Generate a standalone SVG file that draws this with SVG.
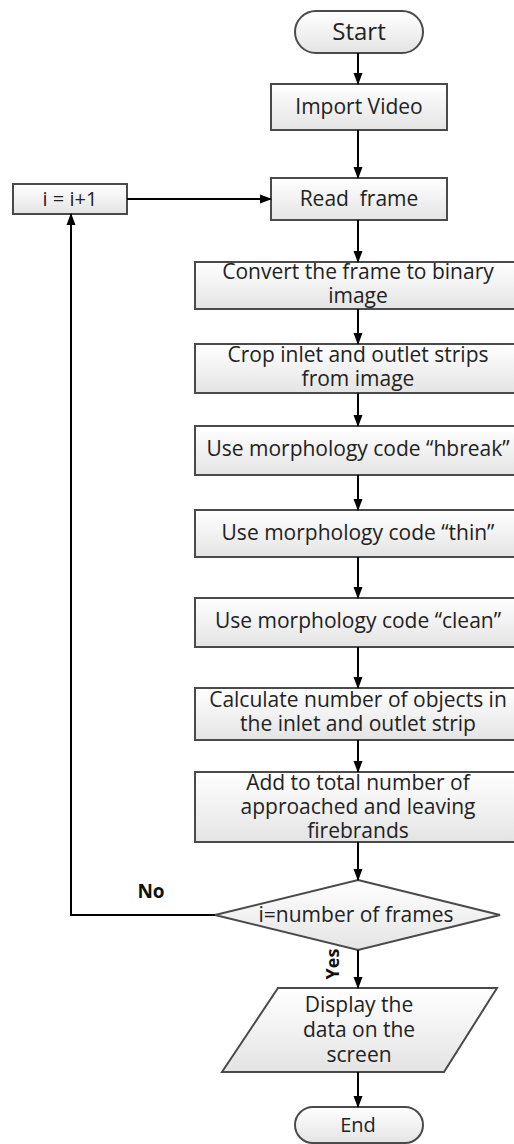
<svg xmlns="http://www.w3.org/2000/svg" width="514" height="1144" viewBox="0 0 514 1144">
  <defs>
    <linearGradient id="fillG" x1="0" y1="0" x2="0" y2="1">
      <stop offset="0" stop-color="#ffffff"/>
      <stop offset="1" stop-color="#e4e4e4"/>
    </linearGradient>
    <marker id="arr" markerUnits="userSpaceOnUse" markerWidth="12" markerHeight="12" viewBox="0 0 12 12" refX="11" refY="6" orient="auto">
      <path d="M0,1.5 L12,6 L0,10.5 Z" fill="#000"/>
    </marker>
  </defs>
  <style>
    .shape { fill: url(#fillG); stroke: #4a4a4a; stroke-width: 2; }
    .t { font-family: "Open Sans", "DejaVu Sans", sans-serif; font-size: 21px; fill: #222; text-anchor: middle; }
    .lbl { font-family: "Open Sans", "DejaVu Sans", sans-serif; font-weight: bold; fill: #111; text-anchor: middle; }
    .c { fill: none; stroke: #000; stroke-width: 2; marker-end: url(#arr); }
  </style>
  <rect width="514" height="1144" fill="#ffffff"/>

  <g id="start">
    <rect class="shape" x="295" y="11" width="128" height="42" rx="21" ry="21"/>
    <text class="t" x="359" y="40" style="font-size:24px">Start</text>
  </g>
  <g id="import">
    <rect class="shape" x="271" y="84" width="176" height="46"/>
    <text class="t" x="359" y="114">Import Video</text>
  </g>
  <g id="read">
    <rect class="shape" x="271" y="178" width="176" height="42"/>
    <text class="t" x="359" y="206" xml:space="preserve">Read  frame</text>
  </g>
  <g id="incr">
    <rect class="shape" x="13" y="184" width="114" height="30"/>
    <text class="t" x="70" y="206" style="font-size:20px">i = i+1</text>
  </g>
  <g id="convert">
    <rect class="shape" x="195" y="262" width="327" height="47"/>
    <text class="t" x="358" y="279">Convert the frame to binary<tspan x="358" dy="24">image</tspan></text>
  </g>
  <g id="crop">
    <rect class="shape" x="195" y="344" width="327" height="49"/>
    <text class="t" x="358" y="362">Crop inlet and outlet strips<tspan x="358" dy="24">from image</tspan></text>
  </g>
  <g id="hbreak">
    <rect class="shape" x="195" y="426" width="327" height="49"/>
    <text class="t" x="358" y="456">Use morphology code “hbreak”</text>
  </g>
  <g id="thin">
    <rect class="shape" x="195" y="510" width="327" height="47"/>
    <text class="t" x="358" y="540">Use morphology code “thin”</text>
  </g>
  <g id="clean">
    <rect class="shape" x="195" y="598" width="327" height="49"/>
    <text class="t" x="358" y="628">Use morphology code “clean”</text>
  </g>
  <g id="calc">
    <rect class="shape" x="195" y="688" width="327" height="52"/>
    <text class="t" x="358" y="707">Calculate number of objects in<tspan x="358" dy="24">the inlet and outlet strip</tspan></text>
  </g>
  <g id="add">
    <rect class="shape" x="195" y="772" width="327" height="70"/>
    <text class="t" x="358" y="790">Add to total number of<tspan x="358" dy="24">approached and leaving</tspan><tspan x="358" dy="24">firebrands</tspan></text>
  </g>
  <g id="decision">
    <polygon class="shape" points="358,880 500,915 358,950 215,915"/>
    <text class="t" x="356" y="922">i=number of frames</text>
  </g>
  <g id="display">
    <polygon class="shape" points="278,988 497,988 444,1072 222,1072"/>
    <text class="t" x="359" y="1012">Display the<tspan x="359" dy="25">data on the</tspan><tspan x="359" dy="25">screen</tspan></text>
  </g>
  <g id="end">
    <rect class="shape" x="295" y="1107" width="128" height="36" rx="18" ry="18"/>
    <text class="t" x="358" y="1132" style="font-size:20px">End</text>
  </g>

  <g id="connectors">
    <line class="c" x1="358" y1="53" x2="358" y2="84"/>
    <line class="c" x1="358" y1="130" x2="358" y2="178"/>
    <line class="c" x1="358" y1="220" x2="358" y2="262"/>
    <line class="c" x1="358" y1="309" x2="358" y2="344"/>
    <line class="c" x1="358" y1="393" x2="358" y2="426"/>
    <line class="c" x1="358" y1="475" x2="358" y2="510"/>
    <line class="c" x1="358" y1="557" x2="358" y2="598"/>
    <line class="c" x1="358" y1="647" x2="358" y2="688"/>
    <line class="c" x1="358" y1="740" x2="358" y2="772"/>
    <line class="c" x1="358" y1="842" x2="358" y2="880"/>
    <line class="c" x1="358" y1="950" x2="358" y2="988"/>
    <line class="c" x1="358" y1="1072" x2="358" y2="1107"/>
    <polyline class="c" points="215,915 71,915 71,214"/>
    <line class="c" x1="127" y1="199" x2="271" y2="199"/>
    <text class="lbl" x="151" y="898" style="font-size:19px">No</text>
    <text class="lbl" x="0" y="0" style="font-size:18px" transform="translate(339,964) rotate(-90)">Yes</text>
  </g>
</svg>
